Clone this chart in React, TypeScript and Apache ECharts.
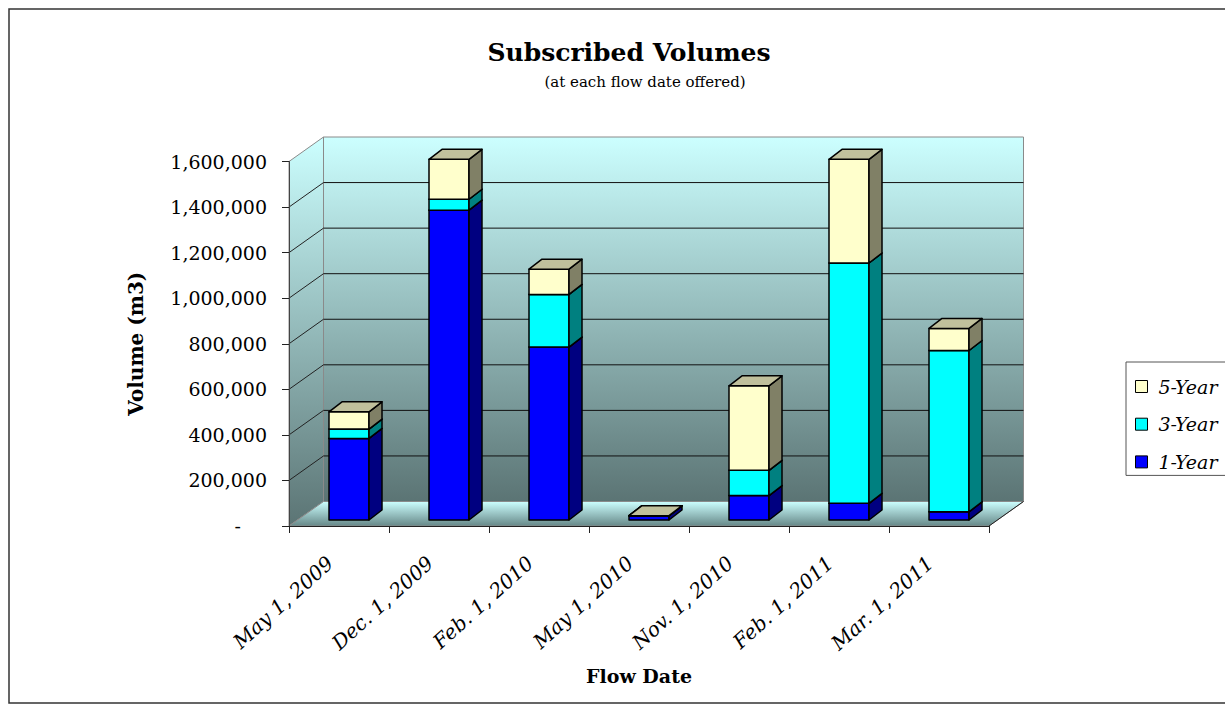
import React, { useEffect, useRef } from 'react';
import * as echarts from 'echarts';

// ---- data ----
const categories = ['May 1, 2009', 'Dec. 1, 2009', 'Feb. 1, 2010', 'May 1, 2010', 'Nov. 1, 2010', 'Feb. 1, 2011', 'Mar. 1, 2011'];
const oneYear = [358000, 1360000, 759000, 19000, 107000, 73000, 36000];
const threeYear = [41000, 48000, 231000, 0, 111000, 1055000, 708000];
const fiveYear = [76000, 175000, 111000, 0, 371000, 455000, 97000];
const yTicks = [0, 200000, 400000, 600000, 800000, 1000000, 1200000, 1400000, 1600000];
const seriesNames = ['1-Year', '3-Year', '5-Year'];
const legendOrder = ['5-Year', '3-Year', '1-Year'];

// ---- styles ----
const FONT = 'DejaVu Serif';
const WALL_DX = 34.5;
const WALL_DY = -24.5;
const BAR_DX = 13;
const BAR_DY = -10;
const BAR_FRONT_DY = -6;
const faceColors = [
  { front: '#0000ff', side: '#000080', top: '#0000c0' },
  { front: '#00ffff', side: '#008080', top: '#00c0c0' },
  { front: '#ffffcc', side: '#808066', top: '#c0c09c' },
];

const stacked = (() => {
  const all = [oneYear, threeYear, fiveYear];
  return all.map((arr, k) =>
    arr.map((v, i) => {
      let base = 0;
      for (let j = 0; j < k; j++) base += all[j][i];
      return [i, base, base + v];
    })
  );
})();

const makeBarRender = (k: number) => (params: any, api: any) => {
  const i = api.value(0);
  const base = api.value(1);
  const top = api.value(2);
  const p0 = api.coord([i, base]);
  const p1 = api.coord([i, top]);
  const band = api.size([1, 0])[0];
  const x0 = p0[0] - band * 0.1;
  const w = band * 0.4;
  const yb = p0[1] + BAR_FRONT_DY;
  const yt = p1[1] + BAR_FRONT_DY;
  const c = faceColors[k];
  const edge = { stroke: '#000', lineWidth: 1.5, lineJoin: 'round' };
  return {
    type: 'group',
    children: [
      { type: 'rect', shape: { x: x0, y: yt, width: w, height: yb - yt }, style: { fill: c.front, ...edge } },
      {
        type: 'polygon',
        shape: { points: [[x0 + w, yb], [x0 + w + BAR_DX, yb + BAR_DY], [x0 + w + BAR_DX, yt + BAR_DY], [x0 + w, yt]] },
        style: { fill: c.side, ...edge },
      },
      {
        type: 'polygon',
        shape: { points: [[x0, yt], [x0 + w, yt], [x0 + w + BAR_DX, yt + BAR_DY], [x0 + BAR_DX, yt + BAR_DY]] },
        style: { fill: c.top, ...edge },
      },
    ],
  };
};

const renderWalls = (params: any, api: any) => {
  const cs = params.coordSys;
  const L = cs.x;
  const R = cs.x + cs.width;
  const T = cs.y;
  const B = cs.y + cs.height;
  const wallGrad = () =>
    new echarts.graphic.LinearGradient(0, 0, 0, 1, [
      { offset: 0, color: '#ccffff' },
      { offset: 1, color: '#5b7474' },
    ]);
  const floorGrad = new echarts.graphic.LinearGradient(0, 0, 0, 1, [
    { offset: 0, color: '#ccffff' },
    { offset: 1, color: '#668888' },
  ]);
  const children: any[] = [];
  children.push({
    type: 'polygon',
    shape: { points: [[L, T], [L + WALL_DX, T + WALL_DY], [L + WALL_DX, B + WALL_DY], [L, B]] },
    style: { fill: wallGrad(), stroke: '#8a8a8a', lineWidth: 1 },
  });
  children.push({
    type: 'rect',
    shape: { x: L + WALL_DX, y: T + WALL_DY, width: cs.width, height: cs.height },
    style: { fill: wallGrad(), stroke: '#8a8a8a', lineWidth: 1 },
  });
  children.push({
    type: 'polygon',
    shape: { points: [[L, B], [R, B], [R + WALL_DX, B + WALL_DY], [L + WALL_DX, B + WALL_DY]] },
    style: { fill: floorGrad, stroke: '#8a8a8a', lineWidth: 1 },
  });
  children.push({
    type: 'line',
    shape: { x1: R, y1: B, x2: R + WALL_DX, y2: B + WALL_DY },
    style: { stroke: '#222', lineWidth: 1 },
  });
  yTicks.forEach((t, idx) => {
    if (idx === 0 || idx === yTicks.length - 1) return;
    const y = api.coord([0, t])[1];
    children.push({
      type: 'line',
      shape: { x1: L + WALL_DX, y1: y + WALL_DY, x2: R + WALL_DX, y2: y + WALL_DY },
      style: { stroke: '#111', lineWidth: 1 },
    });
    children.push({
      type: 'line',
      shape: { x1: L, y1: y, x2: L + WALL_DX, y2: y + WALL_DY },
      style: { stroke: '#222', lineWidth: 1 },
    });
  });
  return { type: 'group', children };
};

export default function App() {
  const ref = useRef<HTMLDivElement>(null);
  useEffect(() => {
    document.body.style.margin = '0';
    if (!ref.current) return;
    const chart = echarts.init(ref.current, undefined, { renderer: 'svg' });
    const option: any = {
      animation: false,
      backgroundColor: '#ffffff',
      title: [
        {
          text: 'Subscribed Volumes',
          left: 624,
          top: 35,
          textAlign: 'center',
          textStyle: { fontFamily: FONT, fontWeight: 'bold', fontSize: 25, color: '#000' },
        },
        {
          text: '(at each flow date offered)',
          left: 640,
          top: 69,
          textAlign: 'center',
          textStyle: { fontFamily: FONT, fontWeight: 'normal', fontSize: 15, color: '#000' },
        },
      ],
      graphic: [
        {
          type: 'rect',
          silent: true,
          shape: { x: 9, y: 9, width: 1240, height: 694 },
          style: { fill: 'none', stroke: '#333', lineWidth: 1.5 },
        },
      ],
      legend: {
        data: legendOrder,
        orient: 'vertical',
        left: 1126,
        top: 362,
        padding: [15, 30, 4, 9],
        itemWidth: 12,
        itemHeight: 12,
        itemGap: 18.7,
        icon: 'rect',
        borderColor: '#555',
        borderWidth: 1,
        selectedMode: false,
        itemStyle: { borderColor: '#000', borderWidth: 1 },
        textStyle: { fontFamily: FONT, fontStyle: 'italic', fontSize: 19, lineHeight: 18, color: '#000', padding: [0, 0, 0, 6] },
      },
      grid: { left: 289, right: 236, top: 161.5, bottom: 186, containLabel: false },
      xAxis: {
        type: 'category',
        data: categories,
        z: 5,
        axisLine: { show: true, lineStyle: { color: '#222', width: 1 } },
        axisTick: { show: true, length: 7, lineStyle: { color: '#222' } },
        axisLabel: {
          rotate: 42,
          interval: 0,
          margin: 26,
          padding: [0, 12, 0, 0],
          fontFamily: FONT,
          fontStyle: 'italic',
          fontSize: 20,
          color: '#000',
        },
        splitLine: { show: false },
        name: 'Flow Date',
        nameLocation: 'middle',
        nameGap: 140,
        nameTextStyle: { fontFamily: FONT, fontWeight: 'bold', fontSize: 19, color: '#000' },
      },
      yAxis: {
        type: 'value',
        min: 0,
        max: 1600000,
        interval: 200000,
        z: 5,
        axisLine: { show: true, lineStyle: { color: '#444', width: 1 } },
        axisTick: { show: true, length: 7, lineStyle: { color: '#222' } },
        splitLine: { show: false },
        axisLabel: {
          margin: 22,
          fontFamily: FONT,
          fontSize: 19,
          color: '#000',
          formatter: (v: number) => (v === 0 ? '{z|-}' : v.toLocaleString('en-US')),
          rich: { z: { padding: [0, 26, 0, 0], fontFamily: FONT, fontSize: 19, color: '#000' } },
        },
        name: 'Volume (m3)',
        nameLocation: 'middle',
        nameGap: 143,
        nameTextStyle: { fontFamily: FONT, fontWeight: 'bold', fontSize: 20, color: '#000' },
      },
      series: [
        {
          type: 'custom',
          name: 'walls',
          silent: true,
          z: 1,
          clip: false,
          renderItem: renderWalls,
          data: [[0, 0]],
          encode: { x: 0, y: 1 },
        },
        ...seriesNames.map((name, k) => ({
          type: 'custom',
          name,
          z: 3,
          clip: false,
          itemStyle: { color: faceColors[k].front, borderColor: '#000', borderWidth: 1 },
          renderItem: makeBarRender(k),
          data: stacked[k],
          encode: { x: 0, y: 2 },
        })),
      ],
    };
    chart.setOption(option);
    return () => chart.dispose();
  }, []);
  return <div ref={ref} style={{ width: 1225, height: 712 }} />;
}
